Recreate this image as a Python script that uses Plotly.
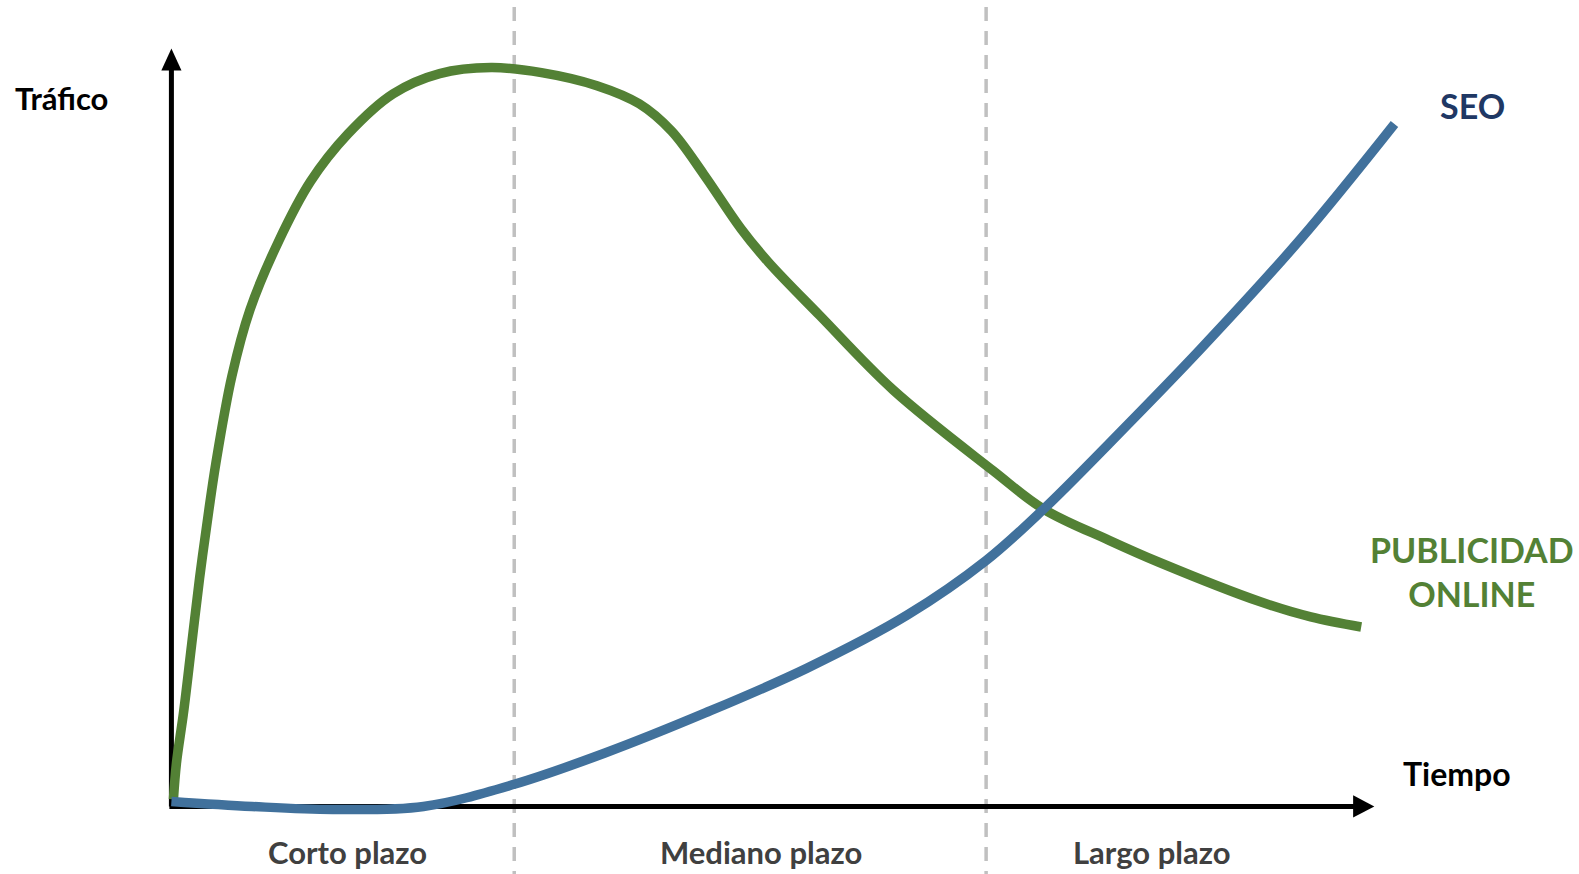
import plotly.graph_objects as go

# Time (horizontal offset) and traffic (vertical) values
pub_time = [2, 5, 12, 20, 28, 37, 44, 60, 78, 106, 138, 175, 220, 266, 317, 367, 422, 464, 496, 528, 565, 592, 643, 716, 815, 865, 930, 980, 1080, 1130, 1180]
pub_traffic = [5, 41, 91, 158, 225, 291, 338, 425, 491, 558, 618, 665, 705, 725, 731, 726, 713, 695, 668, 625, 571, 538, 485, 411, 331, 293, 262, 240, 201, 186, 176]

seo_time = [0, 80, 160, 250, 340, 430, 530, 630, 730, 808, 865, 930, 1020, 1120, 1213]
seo_traffic = [3, -2, -5, -2, 20, 51, 91, 135, 188, 242, 293, 358, 451, 561, 675]

period_bounds = [340, 808]
period_labels = ["Corto plazo", "Mediano plazo", "Largo plazo"]
period_centers = [175, 585, 972]

GREEN = "#538135"
BLUE = "#41719C"
FONT = "Lato"

fig = go.Figure()
fig.add_trace(go.Scatter(x=pub_time, y=pub_traffic, mode="lines",
                         line=dict(color=GREEN, width=9.5, shape="spline", smoothing=1.0),
                         hoverinfo="skip"))
fig.add_trace(go.Scatter(x=seo_time, y=seo_traffic, mode="lines",
                         line=dict(color=BLUE, width=9.5, shape="spline", smoothing=1.0),
                         hoverinfo="skip"))

shapes = []
for b in period_bounds:
    shapes.append(dict(type="line", xref="x", yref="y", x0=b, x1=b, y0=-80, y1=798,
                       line=dict(color="#C0C0C0", width=3.5, dash="14px,10px"), layer="below"))
# axes with arrows
shapes.append(dict(type="line", xref="x", yref="y", x0=0, x1=0, y0=-2, y1=730,
                   line=dict(color="black", width=5), layer="below"))
shapes.append(dict(type="path", xref="x", yref="y",
                   path="M -10 728 L 10 728 L 0 750 Z", fillcolor="black", line=dict(width=0)))
shapes.append(dict(type="line", xref="x", yref="y", x0=-2, x1=1175, y0=-2, y1=-2,
                   line=dict(color="black", width=5), layer="below"))
shapes.append(dict(type="path", xref="x", yref="y",
                   path="M 1172 9 L 1172 -13 L 1193 -2 Z", fillcolor="black", line=dict(width=0)))

ann = []
ann.append(dict(x=-109, y=701, text="<b>Tráfico</b>", font=dict(family=FONT, size=31, color="black")))
ann.append(dict(x=1275, y=31, text="<b>Tiempo</b>", font=dict(family=FONT, size=32, color="black")))
ann.append(dict(x=1290, y=693, text="<b>SEO</b>", font=dict(family=FONT, size=34, color="#1F3864")))
ann.append(dict(x=1290, y=231, text="<b>PUBLICIDAD<br>ONLINE</b>",
                font=dict(family=FONT, size=34, color=GREEN)))
for c, lab in zip(period_centers, period_labels):
    ann.append(dict(x=c, y=-47, text=f"<b>{lab}</b>", font=dict(family=FONT, size=31, color="#404040")))
for a in ann:
    a.update(xref="x", yref="y", showarrow=False, xanchor="center", yanchor="middle")

fig.update_layout(
    width=1579, height=874,
    margin=dict(l=0, r=0, t=0, b=0),
    paper_bgcolor="white", plot_bgcolor="white",
    showlegend=False,
    shapes=shapes, annotations=ann,
    xaxis=dict(range=[-170, 1396], visible=False, fixedrange=True),
    yaxis=dict(range=[-69, 798], visible=False, fixedrange=True),
)
fig.write_html("out.html",
               config={"displayModeBar": False},
               post_script="document.body.style.margin='0px';document.body.style.overflow='hidden';document.documentElement.style.overflow='hidden';")
